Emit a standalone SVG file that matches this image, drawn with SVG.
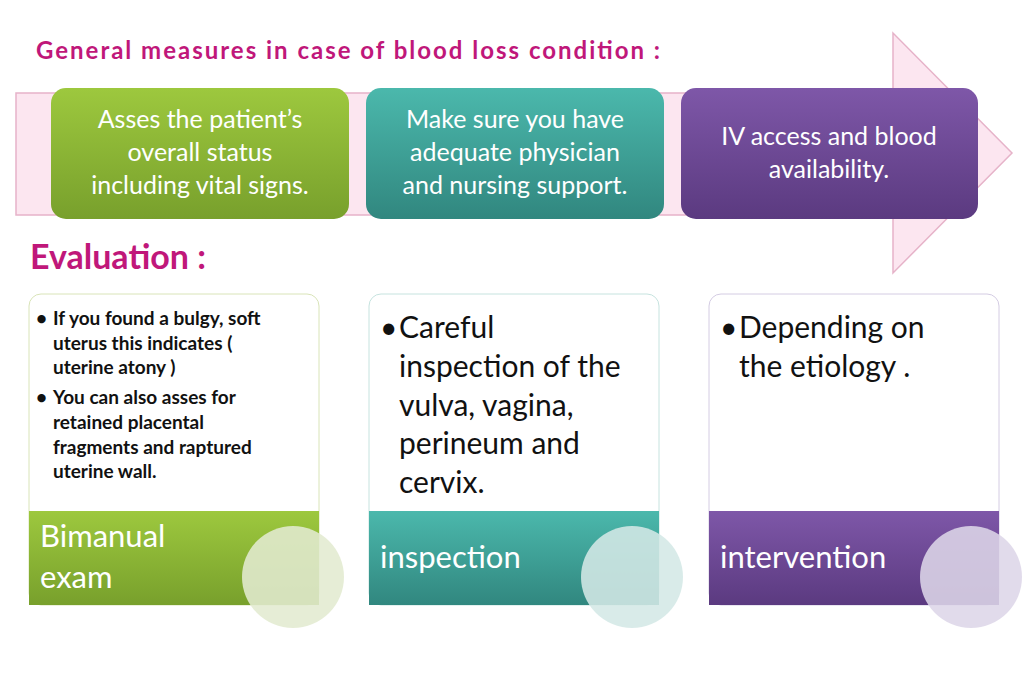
<svg xmlns="http://www.w3.org/2000/svg" width="1024" height="683" viewBox="0 0 1024 683">
<defs>
<linearGradient id="gG" x1="0" y1="0" x2="0" y2="1"><stop offset="0" stop-color="#9dc83e"/><stop offset="1" stop-color="#78a02c"/></linearGradient>
<linearGradient id="gT" x1="0" y1="0" x2="0" y2="1"><stop offset="0" stop-color="#4bb8ac"/><stop offset="1" stop-color="#31877f"/></linearGradient>
<linearGradient id="gP" x1="0" y1="0" x2="0" y2="1"><stop offset="0" stop-color="#7e57a8"/><stop offset="1" stop-color="#5b3a80"/></linearGradient>
<style>
.t{font-family:Lato,"Open Sans",sans-serif;}
.w{fill:#fff;font-size:25px;text-anchor:middle;}
.h{fill:#c0177a;font-weight:bold;}
.b{fill:#111;font-weight:bold;font-size:19px;}
.m{fill:#111;font-size:30px;}
.l{fill:#fff;font-size:31px;}
.c{fill-opacity:0.88;}
</style>
</defs>
<rect width="1024" height="683" fill="#fff"/>
<text class="t h" x="36" y="59" font-size="24" textLength="624">General measures in case of blood loss condition :</text>
<path d="M16 93 H893 V33 L1012 153 L893 273 V215 H16 Z" fill="#fce6f0" stroke="#e6b3c9" stroke-width="1.5"/>
<g id="n1"><rect x="51" y="88" width="298" height="131" rx="15" fill="url(#gG)"/>
<text class="t w" x="200" y="128">Asses the patient’s</text><text class="t w" x="200" y="161">overall status</text><text class="t w" x="200" y="194">including vital signs.</text></g>
<g id="n2"><rect x="366" y="88" width="298" height="131" rx="15" fill="url(#gT)"/>
<text class="t w" x="515" y="128">Make sure you have</text><text class="t w" x="515" y="161">adequate physician</text><text class="t w" x="515" y="194">and nursing support.</text></g>
<g id="n3"><rect x="681" y="88" width="297" height="131" rx="15" fill="url(#gP)"/>
<text class="t w" x="829" y="145">IV access and blood</text><text class="t w" x="829" y="178">availability.</text></g>
<text class="t h" x="30" y="269" font-size="34">Evaluation :</text>
<g id="c1"><rect x="29" y="294" width="290" height="311" rx="12" fill="#fff" stroke="#d9e4b8"/>
<rect x="29" y="511" width="290" height="94" fill="url(#gG)"/>
<text class="t b"><tspan x="36" y="325">•</tspan><tspan x="53" y="325">If you found a bulgy, soft</tspan><tspan x="53" y="350">uterus this indicates (</tspan><tspan x="53" y="374">uterine atony )</tspan><tspan x="36" y="404">•</tspan><tspan x="53" y="404">You can also asses for</tspan><tspan x="53" y="429">retained placental</tspan><tspan x="53" y="454">fragments and raptured</tspan><tspan x="53" y="478">uterine wall.</tspan></text>
<text class="t l" x="40" y="547">Bimanual</text><text class="t l" x="40" y="588">exam</text>
<ellipse class="c" cx="293" cy="577" rx="51" ry="51" fill="#e2ead0"/></g>
<g id="c2"><rect x="369" y="294" width="290" height="311" rx="12" fill="#fff" stroke="#c6e3df"/>
<rect x="369" y="511" width="290" height="94" fill="url(#gT)"/>
<text class="t m"><tspan x="380" y="338">•</tspan><tspan x="399" y="338">Careful</tspan><tspan x="399" y="377">inspection of the</tspan><tspan x="399" y="416">vulva, vagina,</tspan><tspan x="399" y="454">perineum and</tspan><tspan x="399" y="493">cervix.</tspan></text>
<text class="t l" x="380" y="568">inspection</text>
<ellipse class="c" cx="632" cy="577" rx="51" ry="51" fill="#d4e8e6"/></g>
<g id="c3"><rect x="709" y="294" width="290" height="311" rx="12" fill="#fff" stroke="#d4cce3"/>
<rect x="709" y="511" width="290" height="94" fill="url(#gP)"/>
<text class="t m"><tspan x="720" y="338">•</tspan><tspan x="739" y="338">Depending on</tspan><tspan x="739" y="377">the etiology .</tspan></text>
<text class="t l" x="720" y="568">intervention</text>
<ellipse class="c" cx="971" cy="577" rx="51" ry="51" fill="#ddd6e8"/></g>
<g id="connectors"/>
</svg>
